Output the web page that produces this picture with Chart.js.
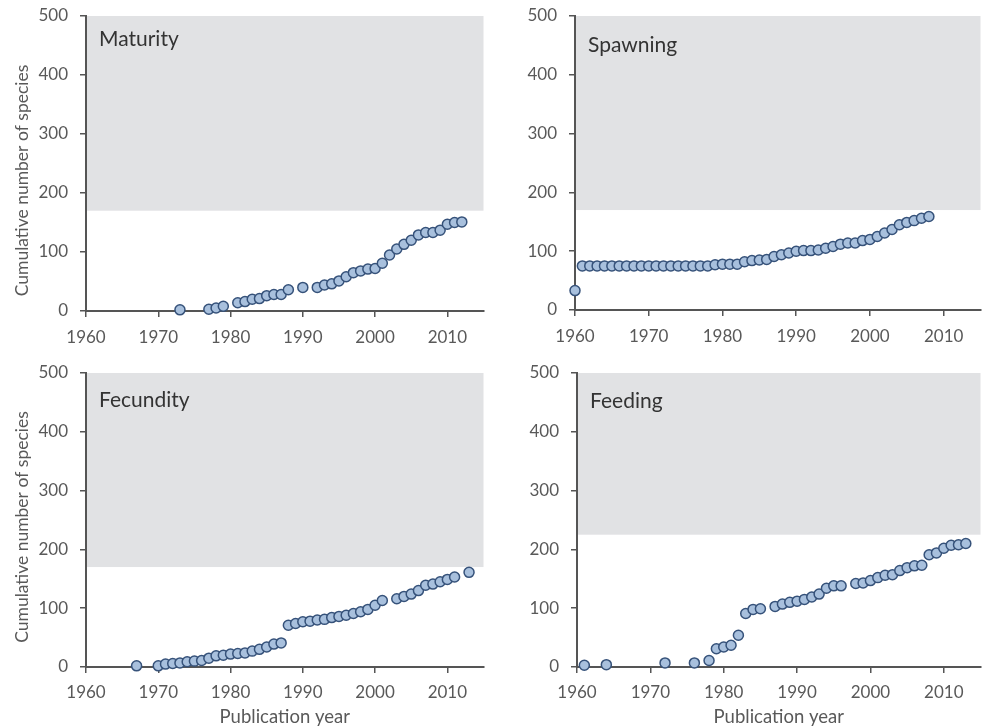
<!DOCTYPE html>
<html>
<head>
<meta charset="utf-8">
<script src="https://cdn.jsdelivr.net/npm/chart.js@4.4.1/dist/chart.umd.min.js"></script>
<style>
  body { margin: 0; background: #fff; overflow: hidden; }
  #wrap { position: relative; width: 987px; height: 727px; overflow: hidden; }
  .panel { position: absolute; }
</style>
</head>
<body>
<div id="wrap">
  <div class="panel" style="left:0;top:-12px;width:490px;height:357px"><canvas id="maturity"></canvas></div>
  <div class="panel" style="left:490px;top:-12px;width:497px;height:357px"><canvas id="spawning"></canvas></div>
  <div class="panel" style="left:0;top:345px;width:490px;height:387px"><canvas id="fecundity"></canvas></div>
  <div class="panel" style="left:490px;top:345px;width:497px;height:387px"><canvas id="feeding"></canvas></div>
</div>
<script>
// ---- data ----
const maturityYears = [1973, 1977, 1978, 1979, 1981, 1982, 1983, 1984, 1985, 1986, 1987, 1988, 1990,
    1992, 1993, 1994, 1995, 1996, 1997, 1998, 1999, 2000, 2001, 2002, 2003, 2004, 2005, 2006, 2007,
    2008, 2009, 2010, 2011, 2012];
const maturityCounts = [2, 3, 5, 8, 14, 16, 20, 21, 26, 28, 28, 36, 40,
    40, 44, 46, 51, 58, 65, 68, 71, 72, 81, 95, 105, 113, 120, 129, 133,
    133, 137, 147, 150, 151];

const spawningYears = [1960, 1961, 1962, 1963, 1964, 1965, 1966, 1967, 1968, 1969, 1970, 1971, 1972,
    1973, 1974, 1975, 1976, 1977, 1978, 1979, 1980, 1981, 1982, 1983, 1984, 1985, 1986, 1987, 1988,
    1989, 1990, 1991, 1992, 1993, 1994, 1995, 1996, 1997, 1998, 1999, 2000, 2001, 2002, 2003, 2004,
    2005, 2006, 2007, 2008];
const spawningCounts = [33, 75, 75, 75, 75, 75, 75, 75, 75, 75, 75, 75, 75,
    75, 75, 75, 75, 75, 75, 77, 78, 78, 78, 82, 84, 85, 86, 91, 94,
    97, 100, 101, 101, 102, 105, 108, 112, 114, 114, 118, 120, 125, 131, 137, 145,
    149, 152, 156, 159];

const fecundityYears = [1967, 1970, 1971, 1972, 1973, 1974, 1975, 1976, 1977, 1978, 1979, 1980, 1981,
    1982, 1983, 1984, 1985, 1986, 1987, 1988, 1989, 1990, 1991, 1992, 1993, 1994, 1995, 1996, 1997,
    1998, 1999, 2000, 2001, 2003, 2004, 2005, 2006, 2007, 2008, 2009, 2010, 2011, 2013];
const fecundityCounts = [2, 2, 5, 6, 7, 9, 10, 11, 15, 19, 20, 22, 23,
    24, 27, 30, 34, 39, 41, 71, 74, 77, 78, 80, 81, 84, 86, 88, 91,
    94, 98, 105, 113, 116, 120, 124, 130, 139, 141, 145, 149, 153, 161];

const feedingYears = [1961, 1964, 1972, 1976, 1978, 1979, 1980, 1981, 1982, 1983, 1984, 1985, 1987,
    1988, 1989, 1990, 1991, 1992, 1993, 1994, 1995, 1996, 1998, 1999, 2000, 2001, 2002, 2003, 2004,
    2005, 2006, 2007, 2008, 2009, 2010, 2011, 2012, 2013];
const feedingCounts = [3, 4, 7, 7, 11, 31, 34, 37, 54, 91, 98, 99, 103,
    107, 110, 112, 115, 119, 124, 134, 138, 138, 142, 143, 147, 152, 156, 157, 164,
    169, 172, 173, 191, 194, 202, 207, 208, 210];

const panelNames = ["Maturity", "Spawning", "Fecundity", "Feeding"];
const shadeFloor = [170, 170, 170, 225];   // lower edge of grey band
const shadeTop = 500;
const yearRange = [1960, 2015];
const yearTicks = [1960, 1970, 1980, 1990, 2000, 2010];
const countRange = [0, 500];
const yTitle = "Cumulative number of species";
const xTitle = "Publication year";

// grey band, panel name and y title (drawn under the axes and points)
const backdrop = {
    id: "backdrop",
    beforeDraw(chart, args, opts) {
        const { ctx, chartArea, scales } = chart;
        const x = scales.x, y = scales.y;
        const top = y.getPixelForValue(shadeTop);
        const bot = y.getPixelForValue(opts.floor);
        const left = x.getPixelForValue(yearRange[0]) + 1;
        const right = x.getPixelForValue(yearRange[1]);
        ctx.save();
        ctx.fillStyle = "#e1e2e4";
        ctx.fillRect(left, top, right - left, bot - top);
        ctx.fillStyle = "#333";
        ctx.font = "21px Lato";
        ctx.textBaseline = "alphabetic";
        ctx.textAlign = "left";
        ctx.fillText(opts.name, chartArea.left + 13, chartArea.top + opts.nameY);
        if (opts.yTitle) {
            const mid = (y.getPixelForValue(countRange[0]) + y.getPixelForValue(countRange[1])) / 2 + opts.titleShift;
            ctx.translate(22, mid);
            ctx.rotate(-Math.PI / 2);
            ctx.fillStyle = "#595959";
            ctx.font = "17.5px Lato";
            ctx.textAlign = "center";
            ctx.textBaseline = "middle";
            ctx.fillText(yTitle, 0, 0);
        }
        ctx.restore();
    }
};

const tickFont = { family: "Lato", size: 17 };

function makePanel(id, years, counts, idx, dims) {
    const points = years.map((yr, i) => ({ x: yr, y: counts[i] }));
    return new Chart(document.getElementById(id), {
        type: "scatter",
        data: {
            datasets: [{
                data: points,
                pointRadius: 5,
                pointBackgroundColor: "#a8c0dd",
                pointBorderColor: "#36527a",
                pointBorderWidth: 1.5,
                clip: false
            }]
        },
        options: {
            responsive: true,
            maintainAspectRatio: false,
            animation: false,
            layout: { padding: { top: dims.top, right: dims.right, left: 0, bottom: 0 } },
            plugins: {
                legend: { display: false },
                tooltip: { enabled: false },
                backdrop: { floor: shadeFloor[idx], name: panelNames[idx], nameY: dims.nameY,
                            yTitle: dims.yTitle, titleShift: dims.titleShift }
            },
            scales: {
                x: {
                    type: "linear",
                    min: yearRange[0],
                    max: yearRange[1],
                    afterBuildTicks(s) { s.ticks = yearTicks.map(v => ({ value: v })); },
                    afterFit(s) { s.height = dims.xh; },
                    ticks: { color: "#595959", font: tickFont, padding: dims.xpad, maxRotation: 0,
                             autoSkip: false, callback: v => String(v) },
                    grid: { display: true, drawOnChartArea: false, color: "#555", lineWidth: 1.5, tickLength: 6 },
                    border: { color: "#555", width: 2 },
                    title: { display: dims.xTitle, text: xTitle, color: "#595959",
                             font: { family: "Lato", size: 18.5 }, padding: { top: 7 } }
                },
                y: {
                    min: countRange[0],
                    max: countRange[1],
                    afterFit(s) { s.width = dims.yw; },
                    ticks: { stepSize: 100, color: "#595959", font: tickFont, padding: 12 },
                    grid: { display: true, drawOnChartArea: false, color: "#555", lineWidth: 1.5, tickLength: 6 },
                    border: { color: "#555", width: 2 }
                }
            }
        },
        plugins: [backdrop]
    });
}

makePanel("maturity", maturityYears, maturityCounts, 0, { top: 28, right: 4, yw: 86, xh: 34, xpad: 10, nameY: 30, yTitle: true, titleShift: 17 });
makePanel("spawning", spawningYears, spawningCounts, 1, { top: 28, right: 5, yw: 85, xh: 35, xpad: 10, nameY: 36, yTitle: false });
makePanel("fecundity", fecundityYears, fecundityCounts, 2, { top: 28, right: 4, yw: 86, xh: 65, xpad: 9, nameY: 34, yTitle: true, titleShift: 7, xTitle: true });
makePanel("feeding", feedingYears, feedingCounts, 3, { top: 28, right: 5, yw: 87, xh: 65, xpad: 9, nameY: 35, yTitle: false, xTitle: true });
</script>
</body>
</html>
